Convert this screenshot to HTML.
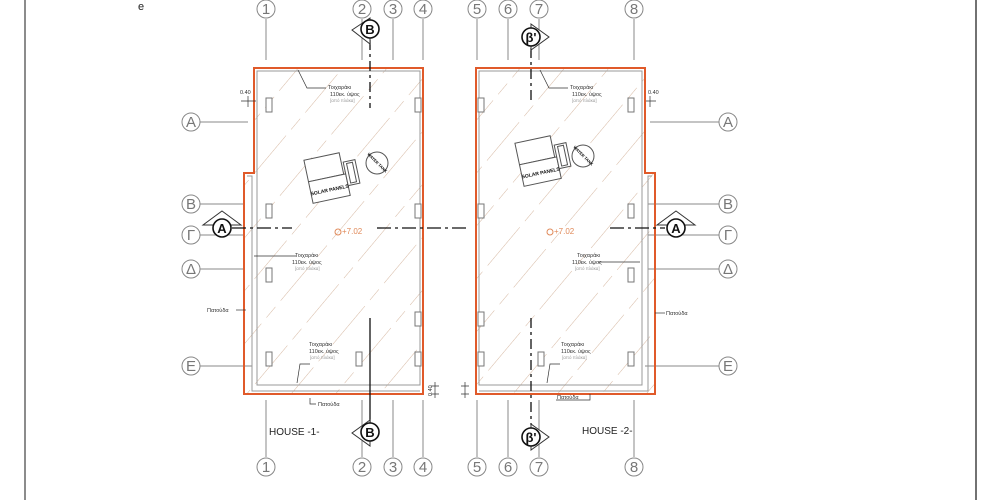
<!DOCTYPE html>
<html><head><meta charset="utf-8"><style>
html,body{margin:0;padding:0;background:#fff}
svg{display:block}
text{font-family:"Liberation Sans",sans-serif}
.g{font-family:"Liberation Serif",serif;font-size:15px;fill:#777}
</style></head><body>
<svg width="1000" height="500" viewBox="0 0 1000 500" xmlns="http://www.w3.org/2000/svg">
<defs>
<pattern id="h" width="34" height="80" patternUnits="userSpaceOnUse" patternTransform="rotate(40)">
<line x1="0" y1="0" x2="0" y2="80" stroke="#d6b8a2" stroke-width="1" stroke-dasharray="50 8 14 8"/>
</pattern>
<clipPath id="c1"><path d="M254 68H423V394H244V173H254Z"/></clipPath>
<clipPath id="c2"><path d="M476 68H645V173H655V394H476Z"/></clipPath>
</defs>
<line x1="25" y1="0" x2="25" y2="500" stroke="#666" stroke-width="1.5"/>
<line x1="976" y1="0" x2="976" y2="500" stroke="#444" stroke-width="1.5"/>
<text x="138" y="10" font-size="11" fill="#222">e</text>

<g stroke="#888" stroke-width="1" fill="none">
<line x1="266" y1="19" x2="266" y2="60"/><line x1="362" y1="19" x2="362" y2="60"/><line x1="393" y1="19" x2="393" y2="60"/><line x1="423" y1="19" x2="423" y2="60"/>
<line x1="477" y1="19" x2="477" y2="60"/><line x1="508" y1="19" x2="508" y2="60"/><line x1="539" y1="19" x2="539" y2="60"/><line x1="634" y1="19" x2="634" y2="60"/>
<line x1="266" y1="400" x2="266" y2="457"/><line x1="362" y1="400" x2="362" y2="457"/><line x1="393" y1="400" x2="393" y2="457"/><line x1="423" y1="400" x2="423" y2="457"/>
<line x1="477" y1="400" x2="477" y2="457"/><line x1="508" y1="400" x2="508" y2="457"/><line x1="539" y1="400" x2="539" y2="457"/><line x1="634" y1="400" x2="634" y2="457"/>
<line x1="200" y1="122" x2="248" y2="122"/><line x1="200" y1="204" x2="244" y2="204"/><line x1="200" y1="235" x2="244" y2="235"/><line x1="200" y1="269" x2="244" y2="269"/><line x1="200" y1="366" x2="252" y2="366"/>
<line x1="650" y1="122" x2="719" y2="122"/><line x1="648" y1="204" x2="719" y2="204"/><line x1="648" y1="235" x2="719" y2="235"/><line x1="648" y1="269" x2="719" y2="269"/><line x1="645" y1="366" x2="719" y2="366"/>
</g>
<g fill="#fff" stroke="#888" stroke-width="1">
<circle cx="266" cy="9" r="9"/><circle cx="362" cy="9" r="9"/><circle cx="393" cy="9" r="9"/><circle cx="423" cy="9" r="9"/>
<circle cx="477" cy="9" r="9"/><circle cx="508" cy="9" r="9"/><circle cx="539" cy="9" r="9"/><circle cx="634" cy="9" r="9"/>
<circle cx="266" cy="467" r="9"/><circle cx="362" cy="467" r="9"/><circle cx="393" cy="467" r="9"/><circle cx="423" cy="467" r="9"/>
<circle cx="477" cy="467" r="9"/><circle cx="508" cy="467" r="9"/><circle cx="539" cy="467" r="9"/><circle cx="634" cy="467" r="9"/>
<circle cx="191" cy="122" r="9"/><circle cx="191" cy="204" r="9"/><circle cx="191" cy="235" r="9"/><circle cx="191" cy="269" r="9"/><circle cx="191" cy="366" r="9"/>
<circle cx="728" cy="122" r="9"/><circle cx="728" cy="204" r="9"/><circle cx="728" cy="235" r="9"/><circle cx="728" cy="269" r="9"/><circle cx="728" cy="366" r="9"/>
</g>
<g class="g" text-anchor="middle">
<text x="266" y="14">1</text><text x="362" y="14">2</text><text x="393" y="14">3</text><text x="423" y="14">4</text>
<text x="477" y="14">5</text><text x="508" y="14">6</text><text x="539" y="14">7</text><text x="634" y="14">8</text>
<text x="266" y="472">1</text><text x="362" y="472">2</text><text x="393" y="472">3</text><text x="423" y="472">4</text>
<text x="477" y="472">5</text><text x="508" y="472">6</text><text x="539" y="472">7</text><text x="634" y="472">8</text>
<text x="191" y="127">A</text><text x="191" y="209">B</text><text x="191" y="240">Γ</text><text x="191" y="274">Δ</text><text x="191" y="371">E</text>
<text x="728" y="127">A</text><text x="728" y="209">B</text><text x="728" y="240">Γ</text><text x="728" y="274">Δ</text><text x="728" y="371">E</text>
</g>

<rect x="240" y="60" width="190" height="340" fill="url(#h)" clip-path="url(#c1)"/>
<rect x="470" y="60" width="190" height="340" fill="url(#h)" clip-path="url(#c2)"/>
<g fill="none" stroke="#999" stroke-width="1">
<path d="M257 71H420V385H257Z"/><path d="M247 176H252V391H420"/>
<path d="M479 71H642V385H479Z"/><path d="M652 176H648V391H479"/>
</g>
<path d="M254 68H423V394H244V173H254Z" fill="none" stroke="#e05a2a" stroke-width="2"/>
<path d="M476 68H645V173H655V394H476Z" fill="none" stroke="#e05a2a" stroke-width="2"/>

<g fill="#fff" stroke="#777" stroke-width="1">
<rect x="266" y="98" width="6" height="14"/><rect x="415" y="98" width="6" height="14"/>
<rect x="266" y="204" width="6" height="14"/><rect x="415" y="204" width="6" height="14"/>
<rect x="266" y="268" width="6" height="14"/><rect x="415" y="312" width="6" height="14"/>
<rect x="266" y="352" width="6" height="14"/><rect x="356" y="352" width="6" height="14"/><rect x="415" y="352" width="6" height="14"/>
<rect x="478" y="98" width="6" height="14"/><rect x="628" y="98" width="6" height="14"/>
<rect x="478" y="204" width="6" height="14"/><rect x="628" y="204" width="6" height="14"/>
<rect x="628" y="268" width="6" height="14"/><rect x="478" y="312" width="6" height="14"/>
<rect x="478" y="352" width="6" height="14"/><rect x="538" y="352" width="6" height="14"/><rect x="628" y="352" width="6" height="14"/>
</g>

<g transform="translate(331,177) rotate(-12)" fill="#fff" stroke="#555" stroke-width="1">
<rect x="-23" y="-22" width="36" height="22"/><rect x="-23" y="0" width="38" height="22"/>
<rect x="15" y="-12" width="12" height="24"/><rect x="18" y="-10" width="6" height="20"/>
<text x="-4" y="14" font-size="5" fill="#111" stroke="none" text-anchor="middle" font-weight="bold">SOLAR PANELS</text>
</g>
<circle cx="377" cy="163" r="11" fill="#fff" stroke="#555"/>
<text x="377" y="164" font-size="4" text-anchor="middle" font-weight="bold" transform="rotate(45 377 163)">WATER TANK</text>
<g transform="translate(542,160) rotate(-12)" fill="#fff" stroke="#555" stroke-width="1">
<rect x="-23" y="-22" width="36" height="22"/><rect x="-23" y="0" width="38" height="22"/>
<rect x="15" y="-12" width="12" height="24"/><rect x="18" y="-10" width="6" height="20"/>
<text x="-4" y="14" font-size="5" fill="#111" stroke="none" text-anchor="middle" font-weight="bold">SOLAR PANELS</text>
</g>
<circle cx="583" cy="156" r="11" fill="#fff" stroke="#555"/>
<text x="583" y="157" font-size="4" text-anchor="middle" font-weight="bold" transform="rotate(45 583 156)">WATER TANK</text>

<g stroke="#111" stroke-width="1.3" fill="none">
<line x1="232" y1="228" x2="292" y2="228" stroke-dasharray="14 4 3 4"/>
<line x1="377" y1="228" x2="470" y2="228" stroke-dasharray="14 4 3 4"/>
<line x1="610" y1="228" x2="665" y2="228" stroke-dasharray="14 4 3 4"/>
<line x1="370" y1="40" x2="370" y2="108" stroke-dasharray="10 4 3 4"/>
<line x1="370" y1="318" x2="370" y2="423"/>
<line x1="531" y1="48" x2="531" y2="103" stroke-dasharray="10 4 3 4"/>
<line x1="531" y1="318" x2="531" y2="425" stroke-dasharray="10 4 3 4"/>
</g>
<g fill="#fff" stroke="#333" stroke-width="1">
<path d="M222 211L241 225H203Z"/><path d="M676 211L695 225H657Z"/>
<path d="M370 18L352 30L370 44Z"/><path d="M370 420L352 433L370 446Z"/>
<path d="M531 24L549 37L531 50Z"/><path d="M531 424L549 437L531 450Z"/>
</g>
<g fill="#fff" stroke="#111" stroke-width="1.6">
<circle cx="222" cy="228" r="9"/><circle cx="676" cy="228" r="9"/>
<circle cx="370" cy="29" r="9"/><circle cx="370" cy="432" r="9"/>
<circle cx="531" cy="37" r="9"/><circle cx="531" cy="437" r="9"/>
</g>
<g font-size="13" font-weight="bold" text-anchor="middle" fill="#111">
<text x="222" y="233">A</text><text x="676" y="233">A</text>
<text x="370" y="34">B</text><text x="370" y="437">B</text>
<text x="531" y="42">β'</text><text x="531" y="442">β'</text>
</g>

<g fill="#e08a5a" font-size="8"><text x="342" y="234">+7.02</text><text x="554" y="234">+7.02</text></g>
<circle cx="338" cy="232" r="3" fill="none" stroke="#e08a5a"/><circle cx="550" cy="232" r="3" fill="none" stroke="#e08a5a"/>

<g font-size="5.5" fill="#333">
<g stroke="#333" stroke-width="0.7" fill="none">
<path d="M298 70L307 88H326"/><path d="M540 70L549 88H568"/>
<path d="M254 256H296"/><path d="M640 262H598"/>
<path d="M297 383L300 364H310"/><path d="M547 383L550 364H560"/>
<path d="M236 310H246"/><path d="M655 313H665"/><path d="M310 398V404H316"/><path d="M590 394V400H556"/>
<path d="M241 101H256M248 96V107"/><path d="M646 101H656M650 96V107"/>
<path d="M435 382V398M431 386H439M431 394H439"/><path d="M465 382V398M461 386H469M461 394H469"/>
</g>
<text x="328" y="89">Τοιχαράκι</text><text x="330" y="96">110εκ. ύψος</text><text x="330" y="102" fill="#999" font-size="4.5">[από πλάκα]</text>
<text x="570" y="89">Τοιχαράκι</text><text x="572" y="96">110εκ. ύψος</text><text x="572" y="102" fill="#999" font-size="4.5">[από πλάκα]</text>
<text x="295" y="257">Τοιχαράκι</text><text x="292" y="264">110εκ. ύψος</text><text x="295" y="270" fill="#999" font-size="4.5">[από πλάκα]</text>
<text x="577" y="257">Τοιχαράκι</text><text x="572" y="264">110εκ. ύψος</text><text x="575" y="270" fill="#999" font-size="4.5">[από πλάκα]</text>
<text x="309" y="346">Τοιχαράκι</text><text x="309" y="353">110εκ. ύψος</text><text x="310" y="359" fill="#999" font-size="4.5">[από πλάκα]</text>
<text x="561" y="346">Τοιχαράκι</text><text x="561" y="353">110εκ. ύψος</text><text x="562" y="359" fill="#999" font-size="4.5">[από πλάκα]</text>
<text x="207" y="312">Πατούδα</text><text x="666" y="315">Πατούδα</text>
<text x="318" y="406">Πατούδα</text><text x="557" y="399">Πατούδα</text>
<text x="240" y="94">0.40</text><text x="648" y="94">0.40</text>
<text x="432" y="396" transform="rotate(-90 432 396)">0.40</text>
</g>
<g font-size="10" fill="#222"><text x="269" y="435">HOUSE -1-</text><text x="582" y="434">HOUSE -2-</text></g>
</svg>
</body></html>
